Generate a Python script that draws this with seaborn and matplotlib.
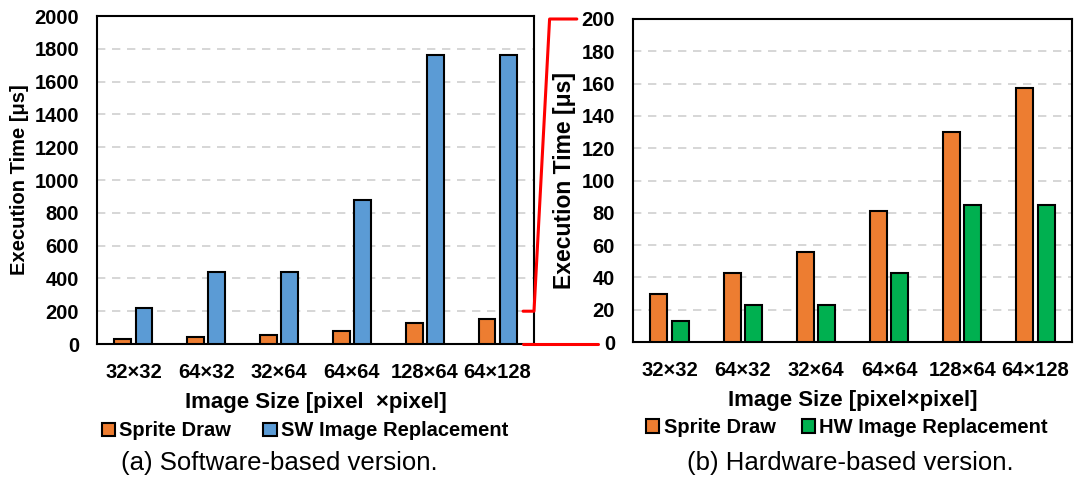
import pandas as pd
import numpy as np
import matplotlib
matplotlib.use('Agg')
import matplotlib.pyplot as plt
import seaborn as sns
from matplotlib.lines import Line2D
from matplotlib.transforms import blended_transform_factory

sizes = ['32×32', '64×32', '32×64', '64×64', '128×64', '64×128']
sprite_draw = [28, 42, 55, 80, 128, 155]
sw_replace = [220, 442, 442, 880, 1765, 1765]
sprite_draw_hw = [30, 43, 56, 81, 130, 157]
hw_replace = [13, 23, 23, 43, 85, 85]

c_orange = '#ED7D31'
c_blue = '#5B9BD5'
c_green = '#00B050'

df_sw = pd.DataFrame({
    'size': sizes * 2,
    'time': sprite_draw + sw_replace,
    'method': ['Sprite Draw'] * 6 + ['SW Image Replacement'] * 6,
})
df_hw = pd.DataFrame({
    'size': sizes * 2,
    'time': sprite_draw_hw + hw_replace,
    'method': ['Sprite Draw'] * 6 + ['HW Image Replacement'] * 6,
})

sns.set_style('white')
plt.rcParams['font.family'] = ['Liberation Sans', 'DejaVu Sans']
plt.rcParams['text.color'] = 'black'
plt.rcParams['axes.labelcolor'] = 'black'
plt.rcParams['xtick.color'] = 'black'
plt.rcParams['ytick.color'] = 'black'

fig = plt.figure(figsize=(10.74, 4.79), dpi=100)
ax1 = fig.add_axes([97 / 1074, 1 - 344 / 479, 437 / 1074, 328 / 479])
ax2 = fig.add_axes([633 / 1074, 1 - 342 / 479, 439 / 1074, 323 / 479])


def draw(ax, df, colors, ymax, step, xlabel, ylabel_size, legend_x, colspace):
    sns.barplot(data=df, x='size', y='time', hue='method', palette=colors,
                saturation=1, width=0.58, gap=0.2, edgecolor='black', linewidth=1.5,
                ax=ax, zorder=3)
    ax.set_ylim(0, ymax)
    ax.set_xlim(-0.5, 5.5)
    ax.set_yticks(np.arange(0, ymax + 1, step))
    ax.yaxis.grid(True, linestyle=(0, (5, 4)), color='#d0d0d0', linewidth=1.2, zorder=0)
    ax.set_axisbelow(True)
    for s in ax.spines.values():
        s.set_visible(True)
        s.set_color('black')
        s.set_linewidth(1.5)
    ax.tick_params(axis='both', length=0, labelsize=14.5)
    ax.tick_params(axis='y', pad=13)
    ax.tick_params(axis='x', pad=14)
    for lbl in ax.get_xticklabels() + ax.get_yticklabels():
        lbl.set_fontweight('bold')
    ax.set_ylabel('Execution Time [μs]', fontsize=ylabel_size, fontweight='bold', labelpad=4)
    ax.set_xlabel(xlabel, fontsize=16, fontweight='bold', labelpad=7)
    handles, labels = ax.get_legend_handles_labels()
    ax.legend(handles, labels, loc='center', bbox_to_anchor=(legend_x, -0.265), ncol=2,
              frameon=False, handlelength=0.65, handleheight=0.65, handletextpad=0.2,
              columnspacing=colspace, prop={'weight': 'bold', 'size': 14.5})


draw(ax1, df_sw, [c_orange, c_blue], 2000, 200, 'Image Size [pixel  ×pixel]', 14.5, 0.476, 1.6)
draw(ax2, df_hw, [c_orange, c_green], 200, 20, 'Image Size [pixel×pixel]', 16.5, 0.487, 1.3)

fig.text(279 / 1074, 1 - 463 / 479, '(a) Software-based version.', ha='center', va='center', fontsize=18.5)
fig.text(850 / 1074, 1 - 463 / 479, '(b) Hardware-based version.', ha='center', va='center', fontsize=18.5)

# red zoom connector between the two panels
to_fig = fig.transFigure.inverted()
tr1 = blended_transform_factory(ax1.transAxes, ax1.transData)
tr2 = blended_transform_factory(ax2.transAxes, ax2.transData)
p_a = to_fig.transform(tr1.transform((0.975, 200)))
p_b = to_fig.transform(tr1.transform((1.0, 200)))
p_c = to_fig.transform(tr2.transform((-0.19, 200)))
p_d = to_fig.transform(tr2.transform((-0.128, 200)))
p_e = to_fig.transform(tr1.transform((0.975, 0)))
p_f = to_fig.transform(tr2.transform((-0.08, 0)))
fig.add_artist(Line2D([p_a[0], p_b[0], p_c[0], p_d[0]], [p_a[1], p_b[1], p_c[1], p_d[1]],
                      color='red', linewidth=2.2, transform=fig.transFigure))
fig.add_artist(Line2D([p_e[0], p_f[0]], [p_e[1], p_e[1]],
                      color='red', linewidth=2.2, transform=fig.transFigure))

fig.savefig('out.png', dpi=100)
